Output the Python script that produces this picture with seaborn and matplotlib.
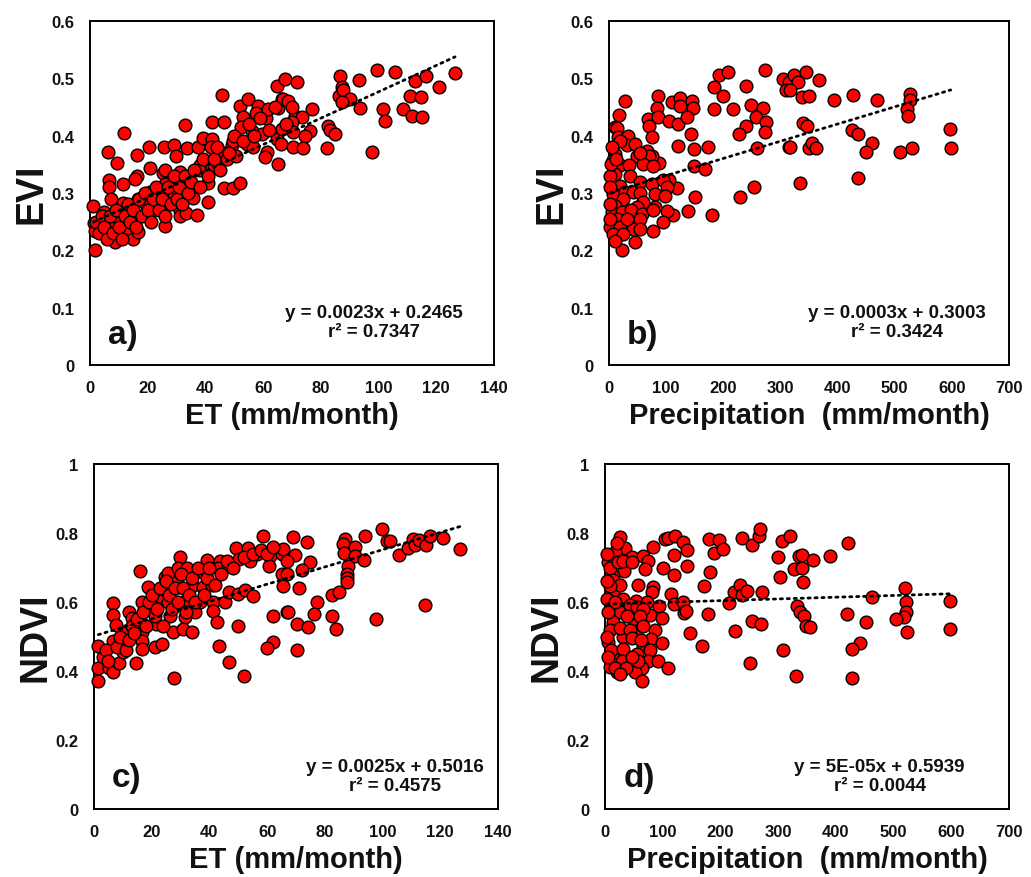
import numpy as np
import pandas as pd
import seaborn as sns
import matplotlib.pyplot as plt

# ---------------- data ----------------
et_a = [1.7, 1.2, 1.4, 1.7, 4.8, 6.7, 8.7, 6.7, 6.7, 6.3,
        9.2, 11.9, 7.2, 11.5, 11.3, 13.3, 10.3, 13.3, 14.8, 16.7,
        16.2, 15.7, 16.4, 20.6, 20.8, 16.7, 19.5, 16.7, 20.8, 20.8,
        23.7, 24.7, 26.0, 25.4, 25.9, 26.0, 25.6, 29.1, 29.8, 29.1,
        31.2, 31.2, 31.2, 32.9, 33.3, 35.8, 37.0, 32.9, 33.5, 37.5,
        38.1, 37.8, 40.8, 40.8, 39.3, 42.2, 42.2, 42.0, 42.7, 43.0,
        45.6, 46.4, 46.4, 47.4, 46.4, 49.7, 52.0, 49.1, 49.5, 50.6,
        52.0, 53.1, 52.3, 54.9, 56.0, 54.3, 56.6, 58.3, 59.5, 57.6,
        61.0, 61.8, 61.2, 60.6, 65.0, 64.7, 66.4, 66.2, 65.3, 66.4,
        64.9, 67.6, 71.8, 67.0, 68.6, 77.0, 71.0, 73.3, 69.9, 70.5,
        76.2, 74.5, 70.2, 73.9, 82.2, 82.6, 83.2, 84.9, 86.6, 87.2,
        86.4, 87.6, 90.1, 87.2, 93.3, 93.6, 97.6, 99.6, 105.7, 101.4,
        102.2, 108.6, 111.5, 114.9, 110.9, 114.7, 112.6, 116.3, 121.0, 126.5,
        2, 3, 4, 5, 6, 7, 8, 9, 10, 11,
        12, 13, 14, 15, 16, 17, 18, 19, 20, 21,
        22, 23, 24, 25, 26, 27, 28, 29, 30, 31,
        32, 33, 34, 35, 36, 38, 39, 41, 43, 44,
        45, 48, 50, 53, 55, 57, 59, 62, 64, 68,
        70]
evi_a = [.200, .277, .248, .234, .267, .244, .214, .322, .310, .372,
         .352, .404, .290, .315, .283, .269, .250, .238, .220, .232,
         .330, .325, .366, .381, .343, .290, .280, .260, .301, .266,
         .300, .275, .243, .335, .340, .315, .380, .383, .365, .300,
         .336, .269, .260, .307, .265, .292, .262, .418, .378, .380,
         .349, .340, .318, .284, .396, .423, .395, .380, .354, .345,
         .471, .424, .370, .360, .308, .308, .318, .383, .390, .365,
         .452, .432, .415, .464, .409, .386, .380, .451, .403, .440,
         .430, .447, .371, .362, .351, .394, .412, .385, .448, .464,
         .487, .499, .494, .464, .460, .446, .435, .432, .423, .407,
         .409, .400, .380, .378, .378, .417, .410, .403, .504, .485,
         .470, .480, .464, .458, .497, .448, .372, .514, .511, .447,
         .426, .447, .435, .432, .469, .467, .496, .504, .485, .510,
         .25, .23, .26, .24, .22, .26, .23, .27, .24, .22,
         .26, .28, .25, .27, .24, .29, .26, .30, .27, .25,
         .29, .31, .27, .29, .26, .31, .28, .33, .29, .31,
         .28, .33, .30, .32, .34, .31, .36, .33, .36, .38,
         .34, .37, .40, .39, .42, .40, .43, .41, .45, .42,
         .45]

pr_b = [22, 45.6, 28, 18, 86.5, 110, 124.6, 123.4, 145, 147,
        83.7, 69, 86.5, 70.7, 105.8, 121.6, 137.3, 74.9, 143.3, 121.6,
        148, 174, 149.6, 168, 150.9, 139, 180, 118.7, 105.8, 88,
        74.9, 112.8, 101, 95.2, 76.7, 193, 209, 183, 199.4, 239,
        217, 183, 248.5, 269.6, 257.8, 274.8, 273.6, 240.3, 226.8, 259,
        272.4, 304.6, 323, 314.5, 310.5, 315.7, 335, 254, 228.5, 436,
        324.5, 345.5, 367, 330, 317.5, 338, 349.6, 393.4, 426.8, 468.4,
        526, 526, 521, 524, 339.8, 346.8, 317.5, 349.6, 355.5, 363,
        426, 435, 460, 449.6, 509.5, 530, 597, 598,
        10.5, 14, 16.3, 33.9, 31, 45.6, 48.5, 10.5, 7.6, 19.3,
        35.7, 66.1, 70, 60.2, 77.7, 10.5, 36.8, 54.4, 74.9, 95.2,
        101, 19.3, 7.6, 28, 42.6, 54, 80.7, 98.2, 25.1, 60.2,
        10.5, 48.5, 80.7, 4.7, 22.2, 39, 57.3, 77, 13.5, 33.9,
        54, 1.8, 19.3, 42.6, 54, 7.6, 25.1, 10.5, 31, 19.3,
        5, 54, 2, 2, 2, 2, 4, 12]
evi_b = [.200, .214, .461, .436, .469, .458, .465, .451, .461, .449,
         .448, .429, .432, .417, .426, .421, .432, .397, .403, .382,
         .377, .380, .347, .341, .293, .268, .262, .308, .323, .352,
         .365, .262, .268, .250, .234, .506, .511, .485, .469, .487,
         .447, .447, .454, .448, .432, .424, .407, .417, .403, .379,
         .514, .499, .504, .493, .479, .380, .318, .310, .293, .326,
         .505, .511, .497, .494, .480, .467, .469, .463, .471, .463,
         .473, .463, .446, .434, .422, .417, .380, .379, .387, .378,
         .410, .403, .387, .371, .371, .378, .411, .378,
         .415, .413, .397, .400, .383, .386, .365, .368, .357, .348,
         .348, .374, .365, .351, .347, .333, .330, .319, .316, .322,
         .310, .313, .298, .301, .301, .300, .298, .295, .290, .284,
         .278, .276, .276, .266, .266, .270, .263, .270, .255, .249,
         .255, .240, .240, .238, .237, .229, .229, .217, .255, .391,
         .380, .370, .330, .310, .280, .255, .350, .360]

et_c = [1.5, 1.5, 1.5, 5.3, 6.7, 8.8, 6.7, 6.5, 6.7, 7.6,
        10.2, 10.2, 12.2, 13.0, 11.8, 14.6, 16.5, 16.5, 16.5, 15.9,
        16.5, 18.8, 20.0, 21.1, 21.5, 23.5, 22.9, 24.6, 25.5, 25.2,
        25.7, 26.3, 27.5, 27.7, 29.8, 29.0, 32.1, 28.6, 30.9, 31.5,
        30.9, 33.9, 33.9, 35.0, 37.9, 39.3, 37.9, 36.7, 40.8, 41.3,
        41.3, 42.5, 43.4, 46.9, 52.0, 50.0, 45.4, 43.7, 43.0, 46.5,
        46.9, 50.0, 49.2, 50.3, 52.3, 55.2, 53.5, 56.4, 54.0, 58.4,
        61.0, 60.7, 62.1, 61.9, 59.8, 65.0, 65.0, 65.4, 66.8, 68.8,
        73.7, 65.6, 69.6, 66.9, 74.8, 72.0, 66.8, 71.1, 77.4, 76.3,
        67.3, 70.4, 74.3, 70.4, 82.4, 85.0, 82.4, 83.9, 87.0, 86.4,
        86.6, 90.4, 90.4, 87.9, 87.6, 87.6, 87.6, 93.7, 93.9, 97.6,
        99.9, 101.4, 102.6, 105.8, 108.7, 110.6, 111.2, 112.7, 115.0, 116.4,
        121.0, 126.8, 114.7,
        3, 4, 5, 8, 9, 11, 12, 13, 14, 15,
        17, 18, 19, 20, 21, 22, 23, 24, 25, 26,
        27, 28, 29, 30, 31, 32, 33, 34, 35, 36,
        38, 39, 40, 42, 44, 46, 48, 52, 55, 58,
        60, 62]
ndvi_c = [.372, .408, .472, .408, .396, .423, .488, .597, .563, .533,
          .454, .490, .572, .553, .520, .423, .512, .488, .599, .691,
          .464, .643, .589, .469, .536, .478, .618, .672, .685, .630,
          .599, .560, .512, .379, .730, .700, .700, .657, .599, .556,
          .522, .514, .647, .570, .686, .723, .643, .599, .649, .599,
          .575, .541, .473, .425, .386, .531, .599, .720, .700, .705,
          .630, .623, .756, .725, .636, .617, .756, .739, .720, .792,
          .734, .705, .559, .483, .466, .739, .681, .647, .570, .788,
          .775, .754, .736, .720, .715, .694, .681, .640, .599, .565,
          .572, .536, .527, .462, .620, .630, .560, .522, .783, .768,
          .742, .758, .734, .703, .681, .669, .657, .723, .792, .551,
          .813, .778, .778, .736, .756, .783, .765, .781, .765, .790,
          .785, .754, .591,
          .44, .46, .43, .47, .50, .46, .49, .53, .51, .55,
          .57, .53, .60, .62, .56, .58, .64, .53, .66, .62,
          .58, .64, .60, .68, .64, .57, .62, .67, .60, .70,
          .62, .67, .70, .65, .68, .72, .70, .73, .74, .75,
          .74, .76]

pr_d = [26, 34.7, 13.3, 46.4, 66.6, 75.2, 84, 104, 109, 121.6,
        136, 141.9, 119.9, 69.5, 101.3, 119.9, 141.9, 33, 14.4, 57.9,
        84, 81, 14.4, 32, 53.8, 72.4, 94.3, 114, 118.7, 136,
        137, 140, 26, 49.2, 78, 98.4, 14.4, 49, 86.8, 52.1,
        30.7, 5.8, 79.3, 98.4, 146.5, 168, 66.6, 23, 28, 78.2,
        14.4, 44.6, 75.2, 92.6, 110, 63.7, 20.3, 52.1, 63.7, 8.7,
        179.4, 196.8, 188, 204.4, 181.2, 172, 177.7, 237.4, 254.8, 266.3,
        269.2, 222.9, 234.5, 237.4, 246.1, 272.2, 214.2, 254.8, 271, 225.8,
        251.9, 307, 320, 299.3, 304, 327, 335.8, 333, 337.5, 308.7,
        331.8, 341.7, 360.8, 341.7, 343.4, 389, 421.6, 344.5, 349.1, 356,
        418.6, 451.6, 441.7, 428.5, 428.5, 462, 520, 521, 521, 518,
        504, 524, 597, 597,
        11.6, 17, 5, 8, 23, 31, 46, 14, 26, 8,
        3, 17, 43, 55, 66, 5, 38, 61, 8, 26,
        43, 66, 3, 46, 63, 11, 32, 55, 5, 29,
        58, 17, 37, 26, 46, 3, 3, 20]
ndvi_d = [.788, .756, .739, .730, .734, .720, .760, .783, .786, .792,
          .775, .752, .736, .696, .698, .678, .703, .691, .676, .649,
          .643, .630, .628, .610, .604, .599, .587, .623, .594, .601,
          .568, .575, .570, .575, .562, .553, .541, .550, .520, .512,
          .498, .485, .493, .481, .510, .472, .473, .449, .450, .462,
          .437, .425, .430, .430, .408, .408, .396, .396, .372, .411,
          .783, .781, .742, .754, .688, .647, .565, .785, .765, .792,
          .813, .630, .649, .620, .633, .630, .597, .546, .536, .517,
          .423, .778, .790, .730, .672, .696, .734, .589, .570, .462,
          .386, .736, .723, .698, .659, .734, .771, .560, .531, .527,
          .565, .541, .481, .464, .379, .615, .640, .599, .572, .556,
          .551, .512, .604, .522,
          .725, .745, .715, .700, .715, .720, .716, .665, .648, .645,
          .610, .600, .590, .585, .580, .570, .560, .560, .520, .525,
          .520, .530, .500, .495, .490, .460, .465, .450, .440, .430,
          .430, .410, .410, .390, .440, .660, .740, .770]

# trendline coefficients and r² as printed on the chart
slopes = [0.0023, 0.0003, 0.0025, 0.00005]
intercepts = [0.2465, 0.3003, 0.5016, 0.5939]
eq_texts = ["y = 0.0023x + 0.2465\nr² = 0.7347",
            "y = 0.0003x + 0.3003\nr² = 0.3424",
            "y = 0.0025x + 0.5016\nr² = 0.4575",
            "y = 5E-05x + 0.5939\nr² = 0.0044"]
panel_tags = ["a)", "b)", "c)", "d)"]
x_titles = ["ET (mm/month)", "Precipitation  (mm/month)",
            "ET (mm/month)", "Precipitation  (mm/month)"]
y_titles = ["EVI", "EVI", "NDVI", "NDVI"]
et_ticks = [0, 20, 40, 60, 80, 100, 120, 140]
pr_ticks = [0, 100, 200, 300, 400, 500, 600, 700]
evi_ticks = [0, 0.1, 0.2, 0.3, 0.4, 0.5, 0.6]
ndvi_ticks = [0, 0.2, 0.4, 0.6, 0.8, 1]

# ---------------- style ----------------
sns.set_style("white")
plt.rcParams['font.family'] = ['Liberation Sans', 'DejaVu Sans']
plt.rcParams['font.weight'] = 'bold'

W, H = 1031, 878
fig = plt.figure(figsize=(W / 100, H / 100), dpi=100)

def rect(l, t, r, b):
    return [l / W, 1 - b / H, (r - l) / W, (b - t) / H]

panels = [
    dict(rect=rect(90, 22, 494, 366), x=et_a, y=evi_a, xt=et_ticks, yt=evi_ticks, eqx=0.703, eqy=0.125, tagy=0.09),
    dict(rect=rect(609, 22, 1009, 366), x=pr_b, y=evi_b, xt=pr_ticks, yt=evi_ticks, eqx=0.72, eqy=0.125, tagy=0.09),
    dict(rect=rect(94, 465, 498, 810), x=et_c, y=ndvi_c, xt=et_ticks, yt=ndvi_ticks, eqx=0.745, eqy=0.095, tagy=0.09),
    dict(rect=rect(605, 465, 1009, 810), x=pr_d, y=ndvi_d, xt=pr_ticks, yt=ndvi_ticks, eqx=0.68, eqy=0.095, tagy=0.09),
]

def fmt(v):
    return "0" if v == 0 else ("1" if v == 1 else f"{v:g}")

for i, p in enumerate(panels):
    ax = fig.add_axes(p['rect'])
    df = pd.DataFrame({'x': p['x'], 'y': p['y']})
    sns.scatterplot(data=df, x='x', y='y', ax=ax, color='#ff0000',
                    edgecolor='black', linewidth=1.0, s=84,
                    clip_on=False, zorder=3, legend=False)
    xl = np.array([df['x'].min(), df['x'].max()])
    ax.plot(xl, slopes[i] * xl + intercepts[i], color='black',
            linestyle=(0, (0.8, 1.7)), linewidth=2.0, zorder=4,
            dash_capstyle='round')
    ax.set_xlim(p['xt'][0], p['xt'][-1])
    ax.set_ylim(p['yt'][0], p['yt'][-1])
    ax.set_xticks(p['xt'])
    ax.set_yticks(p['yt'])
    ax.set_xticklabels([fmt(v) for v in p['xt']], fontsize=12, fontweight='bold', color='#111111')
    ax.set_yticklabels([fmt(v) for v in p['yt']], fontsize=12, fontweight='bold', color='#111111')
    ax.tick_params(length=0, pad=11)
    for s in ax.spines.values():
        s.set_visible(True)
        s.set_color('black')
        s.set_linewidth(1.4)
    ax.set_xlabel(x_titles[i], fontsize=21, fontweight='bold', color='#111111')
    ax.set_ylabel(y_titles[i], fontsize=27, fontweight='bold', color='#111111')
    ax.xaxis.set_label_coords(0.5, -0.105)
    ax.yaxis.set_label_coords(-0.10, 0.5)
    ax.text(0.045, p['tagy'], panel_tags[i], transform=ax.transAxes,
            fontsize=24, fontweight='bold', ha='left', va='center', color='#111111')
    ax.text(p['eqx'], p['eqy'], eq_texts[i], transform=ax.transAxes,
            fontsize=13.5, fontweight='bold', ha='center', va='center',
            multialignment='center', linespacing=1.15, color='#111111')

fig.savefig('out.png', dpi=100)
